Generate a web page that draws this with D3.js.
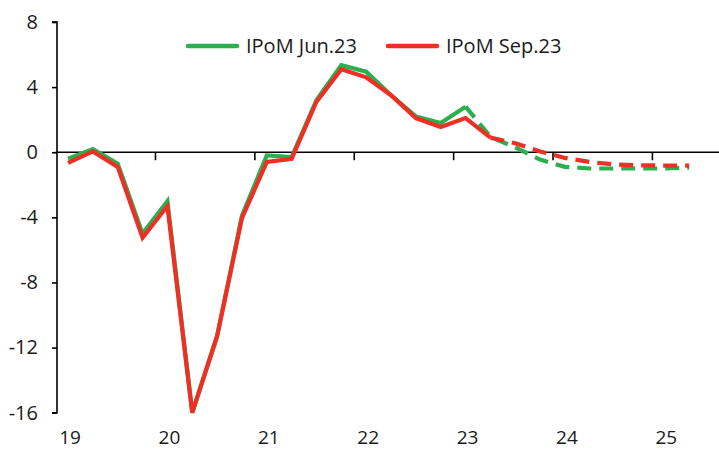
<!DOCTYPE html>
<html>
<head>
<meta charset="utf-8">
<script src="https://cdn.jsdelivr.net/npm/d3@7"></script>
<style>
  html, body { margin: 0; padding: 0; background: #fff; }
  svg { display: block; font-family: "Open Sans", "Noto Sans", sans-serif; }
</style>
</head>
<body>
<svg id="chart" width="719" height="449"></svg>
<script>
// Quarterly periods, 2019Q1 .. 2025Q2
const quarters = [
  "19Q1","19Q2","19Q3","19Q4","20Q1","20Q2","20Q3","20Q4",
  "21Q1","21Q2","21Q3","21Q4","22Q1","22Q2","22Q3","22Q4",
  "23Q1","23Q2","23Q3","23Q4","24Q1","24Q2","24Q3","24Q4",
  "25Q1","25Q2"
];
// IPoM June 2023 (observed through 23Q1, projection afterwards)
const ipomJun23 = [
  -0.4, 0.2, -0.7, -5.0, -3.0, -16.0, -11.3, -3.9,
  -0.2, -0.3, 3.2, 5.35, 4.95, 3.5, 2.2, 1.8,
  2.8, 0.95, 0.3, -0.45, -0.9, -1.0, -1.0, -1.0,
  -1.0, -0.95
];
// IPoM September 2023 (observed through 23Q2, projection afterwards)
const ipomSep23 = [
  -0.65, 0.05, -0.9, -5.25, -3.3, -16.0, -11.3, -4.05,
  -0.6, -0.4, 3.1, 5.1, 4.6, 3.5, 2.1, 1.55,
  2.1, 0.9, 0.55, 0.05, -0.35, -0.6, -0.75, -0.8,
  -0.82, -0.82
];
const lastObserved = { jun: "23Q1", sep: "23Q2" };
const seriesNames = ["IPoM Jun.23", "IPoM Sep.23"];
const yTicks = [8, 4, 0, -4, -8, -12, -16];
const yearLabels = ["19","20","21","22","23","24","25"];

const colors = { jun: "#2bb04f", sep: "#ee2f26" };

const svg = d3.select("#chart");

const idx = q => quarters.indexOf(q);
const x = d3.scaleLinear().domain([-0.5, 26.2]).range([55.6, 719]);
const y = d3.scaleLinear().domain([-16, 8]).range([412.7, 22]);

// Y axis (plain hyphen for negatives)
const yAxis = d3.axisLeft(y).tickValues(yTicks).tickSize(5).tickPadding(14)
  .tickFormat(d => String(d));
const gy = svg.append("g").attr("transform", "translate(57,0)").call(yAxis);
gy.select(".domain").attr("stroke", "#000").attr("stroke-width", 1.6)
  .attr("d", `M-5,${y(8)}H0V${y(-16)}H-5`);
gy.selectAll(".tick line").attr("stroke", "#000").attr("stroke-width", 1.6);
gy.selectAll(".tick text").attr("fill", "#1a1a1a").style("font-size", "20px")
  .style("font-family", "'Open Sans', sans-serif");

// X axis on the zero line, ticks between years
const yearBoundaries = yearLabels.slice(1).map((_, i) => (i + 1) * 4 - 0.5);
const xAxis = d3.axisBottom(x).tickValues(yearBoundaries).tickSize(8).tickFormat("");
const gx = svg.append("g").attr("transform", `translate(0,${y(0)})`).call(xAxis);
gx.select(".domain").attr("stroke", "#000").attr("stroke-width", 1.6)
  .attr("d", `M${x(-0.5)},0H719`);
gx.selectAll(".tick line").attr("stroke", "#000").attr("stroke-width", 1.6);

// Year labels at the first quarter of each year
svg.append("g").selectAll("text").data(yearLabels).join("text")
  .attr("x", (d, i) => x(i * 4) + 2)
  .attr("y", 444)
  .attr("text-anchor", "middle")
  .attr("fill", "#1a1a1a")
  .style("font-size", "19px")
  .text(d => d);

// Lines: solid for observed, dashed for projection
const line = d3.line().x(d => x(d.i)).y(d => y(d.v));
function drawSeries(values, lastQ, color) {
  const pts = values.map((v, i) => ({ i, v }));
  const cut = idx(lastQ);
  svg.append("path").datum(pts.slice(cut))
    .attr("d", line).attr("fill", "none").attr("stroke", color)
    .attr("stroke-width", 4.2).attr("stroke-dasharray", "14,8")
    .attr("stroke-linejoin", "round");
  svg.append("path").datum(pts.slice(0, cut + 1))
    .attr("d", line).attr("fill", "none").attr("stroke", color)
    .attr("stroke-width", 4.2).attr("stroke-linejoin", "miter");
}
drawSeries(ipomJun23, lastObserved.jun, colors.jun);
drawSeries(ipomSep23, lastObserved.sep, colors.sep);

// Legend
const legendItems = [
  { name: seriesNames[0], color: colors.jun, x0: 188 },
  { name: seriesNames[1], color: colors.sep, x0: 388 }
];
const lg = svg.append("g");
legendItems.forEach(it => {
  lg.append("line").attr("x1", it.x0).attr("x2", it.x0 + 49)
    .attr("y1", 46).attr("y2", 46)
    .attr("stroke", it.color).attr("stroke-width", 4.5).attr("stroke-linecap", "round");
  lg.append("text").attr("x", it.x0 + 58).attr("y", 53)
    .attr("fill", "#1a1a1a").style("font-size", "20px").text(it.name);
});
</script>
</body>
</html>
